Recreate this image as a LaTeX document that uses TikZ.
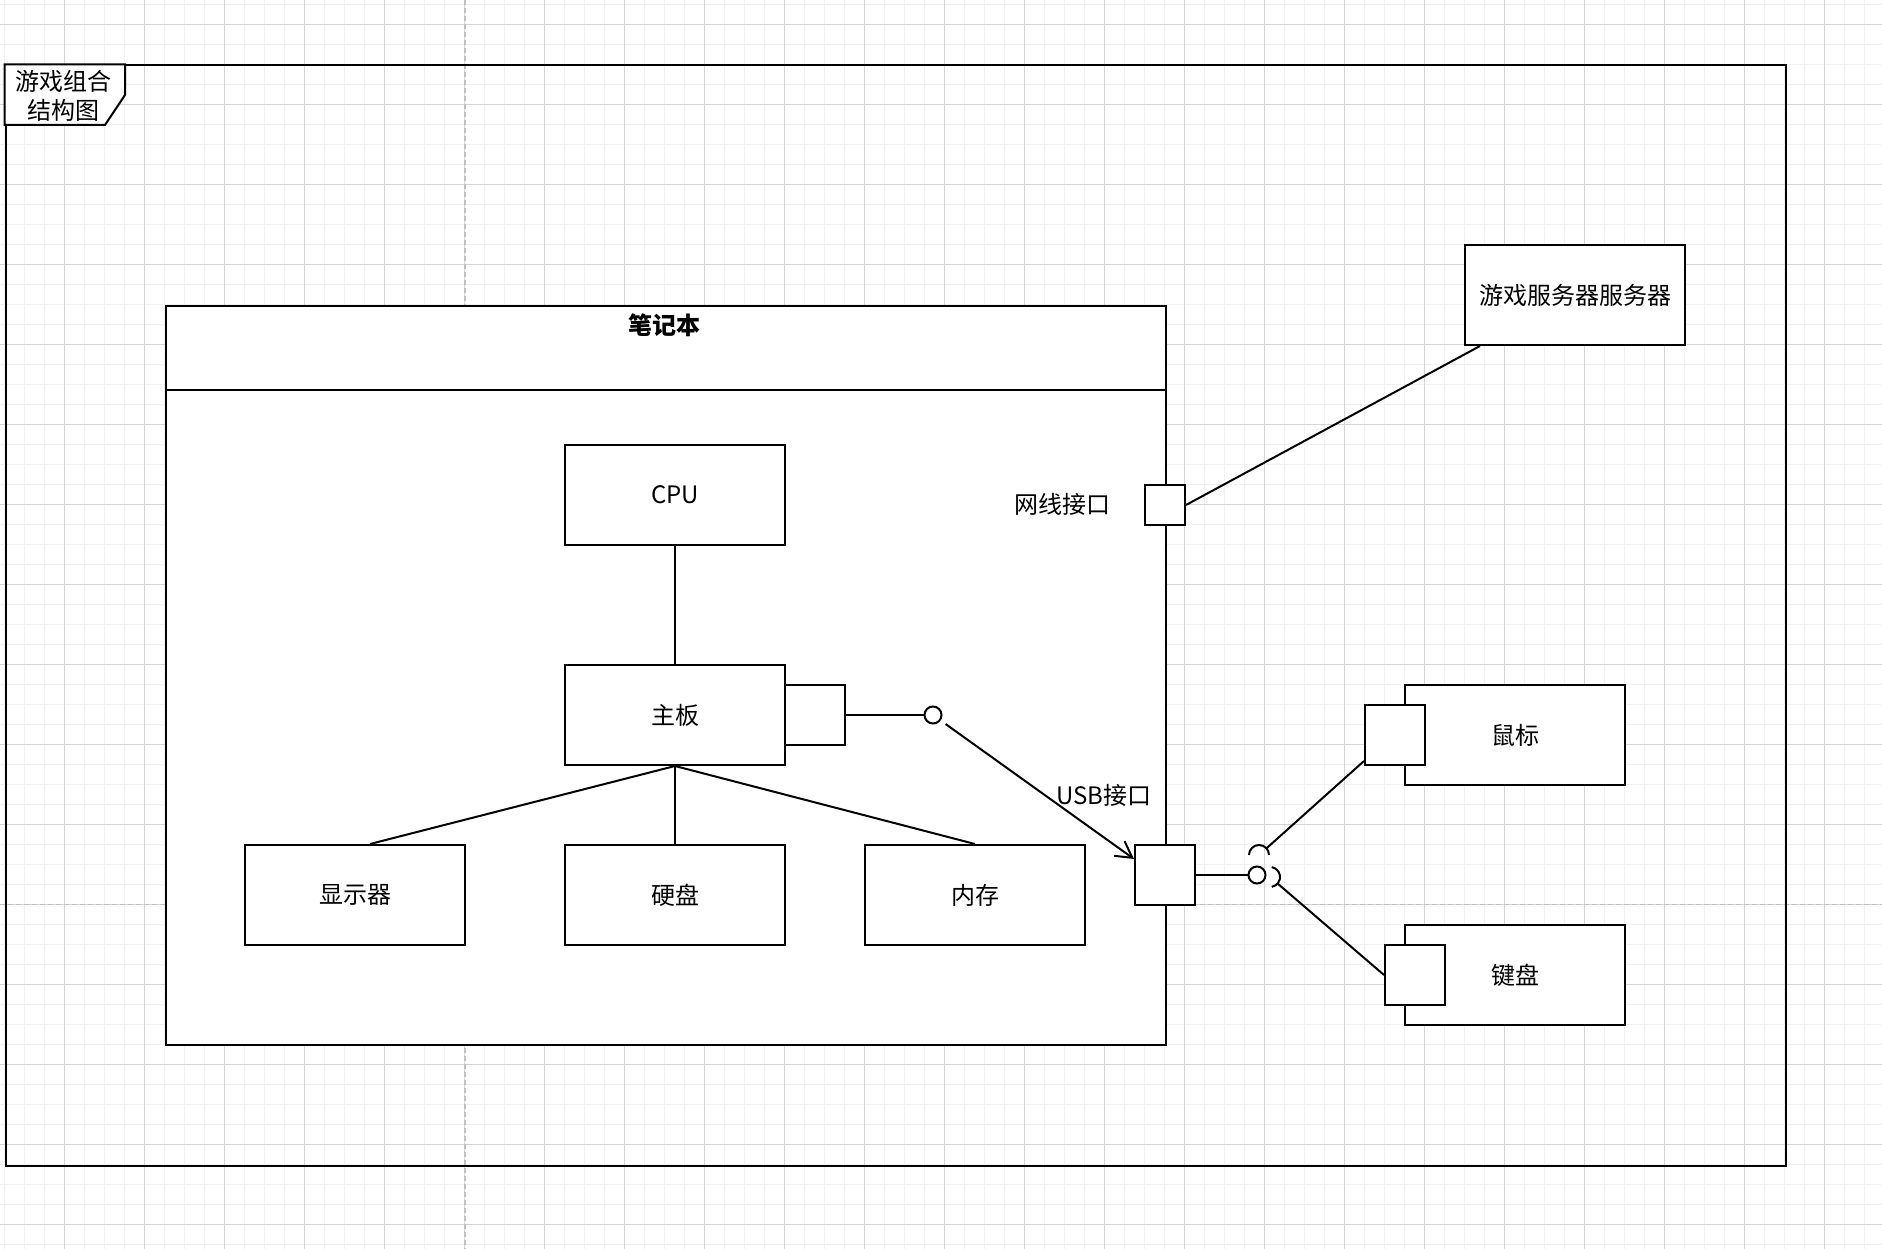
\documentclass[tikz,border=0pt]{standalone}
\usepackage{fontspec}
\setmainfont{Noto Sans CJK SC}
\usetikzlibrary{arrows.meta}
\definecolor{minorc}{HTML}{F1F1F1}
\definecolor{majorc}{HTML}{D4D4D4}
\definecolor{pagec}{HTML}{C0C0C0}
\begin{document}
\begin{tikzpicture}[x=1pt,y=-1pt,
  txt/.style={font=\fontsize{24pt}{28.8pt}\selectfont},
  box/.style={draw, line width=2pt, fill=white, minimum width=220pt, minimum height=100pt, inner sep=0pt, txt},
  portbox/.style={draw, line width=2pt, fill=white, minimum size=60pt, inner sep=0pt},
  ball/.style={draw, circle, line width=2pt, fill=white, minimum size=17pt, inner sep=0pt},
  conn/.style={line width=2pt},
  ]
\useasboundingbox (0,0) rectangle (1882,1249);
% background grid
\begin{scope}
\clip (0,0) rectangle (1882,1249);
\fill[white] (0,0) rectangle (1882,1249);
\foreach \i in {0,...,94} \draw[minorc, line width=1pt] ({4.3+20*\i},0) -- ({4.3+20*\i},1249);
\foreach \i in {0,...,62} \draw[minorc, line width=1pt] (0,{4.3+20*\i}) -- (1882,{4.3+20*\i});
\foreach \i in {0,...,22} \draw[majorc, line width=1pt] ({64.3+80*\i},0) -- ({64.3+80*\i},1249);
\foreach \i in {0,...,15} \draw[majorc, line width=1pt] (0,{24.3+80*\i}) -- (1882,{24.3+80*\i});
\draw[pagec, line width=1.5pt, dash pattern=on 5pt off 3pt] (465,0) -- (465,1249);
\draw[pagec, line width=1.5pt, dash pattern=on 5pt off 3pt] (0,904.3) -- (1882,904.3);
\end{scope}

% outer frame
\node[draw, line width=2pt, minimum width=1780.5pt, minimum height=1100pt, anchor=north west, inner sep=0pt] (frame) at (4.5,64.5) {};
\draw[line width=2pt, fill=white] (frame.north west) -- (125,64.5) -- (125,95) -- (105,125) -- (4.5,125) -- cycle;
\node[txt, align=center, inner sep=0pt] (framelbl) at (64,96) {游戏组合\\结构图};

% notebook container
\node[draw, line width=2pt, fill=white, minimum width=1000pt, minimum height=739pt, anchor=north west, inner sep=0pt] (nb) at (164.5,305) {};
\draw[line width=2pt] (nb.north west) ++(0,85) -- ++(1000,0);
\node[txt, font=\fontsize{24pt}{28.8pt}\selectfont\bfseries] (nbtitle) at (664,325) {笔记本};

% components
\node[box] (cpu) at (675,495) {CPU};
\node[box] (mb) at (675,715) {主板};
\node[portbox] (mbport) at (815,715) {};
\node[box] (disp) at (355,895) {显示器};
\node[box] (hdd) at (675,895) {硬盘};
\node[box] (mem) at (975,895) {内存};
\node[portbox, minimum size=40pt] (netport) at (1165,505) {};
\node[portbox] (usbport) at (1165,875) {};
\node[txt] (netlbl) at (1062,504) {网线接口};
\node[txt] (usblbl) at (1104,795) {USB接口};

\node[box] (server) at (1575,295) {游戏服务器服务器};
\node[box] (mouse) at (1515,735) {鼠标};
\node[portbox] (mport) at (1395,735) {};
\node[box] (kbd) at (1515,975) {键盘};
\node[portbox] (kport) at (1415,975) {};

% connectors inside notebook
\draw[conn] (cpu.south) -- (mb.north);
\draw[conn] (mb.south) -- ([xshift=15pt]disp.north);
\draw[conn] (mb.south) -- (hdd.north);
\draw[conn] (mb.south) -- (mem.north);

% provided interface of mainboard
\node[ball] (ball1) at (933,715) {};
\draw[conn] (mbport.east) -- (ball1.west);
\draw[conn, shorten <=6pt, -{Straight Barb[length=16pt,width=18pt]}] (ball1) -- ([yshift=16pt]usbport.west);

% USB interface with sockets
\node[ball] (ball2) at (1257,875) {};
\draw[conn] (usbport.east) -- (ball2.west);
\coordinate (sock1) at (1259,855);
\coordinate (sock2) at (1270,877);
\draw[conn] ([shift={(180:10pt)}]sock1) arc[start angle=180, end angle=0, radius=10pt];
\draw[conn] ([shift={(-80:10pt)}]sock2) arc[start angle=-80, end angle=80, radius=10pt];
\draw[conn, shorten >=10pt] ([yshift=5pt]mport.south west) -- (sock1);
\draw[conn, shorten >=10pt] (kport.west) -- (sock2);

% network
\draw[conn] (netport.east) -- ([xshift=-95pt]server.south);
\end{tikzpicture}
\end{document}
